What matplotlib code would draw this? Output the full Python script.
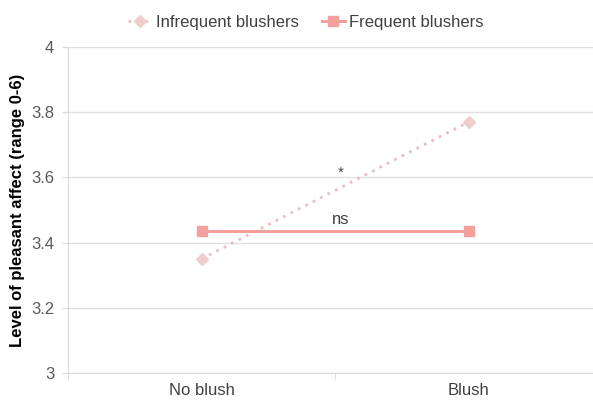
import matplotlib.pyplot as plt

categories = ['No blush', 'Blush']
infrequent = [3.35, 3.77]
frequent = [3.435, 3.435]
y_ticks = [3, 3.2, 3.4, 3.6, 3.8, 4]
y_tick_labels = ['3', '3.2', '3.4', '3.6', '3.8', '4']

plt.rcParams['font.family'] = ['Liberation Sans', 'DejaVu Sans']

fig = plt.figure(figsize=(5.93, 4.01), dpi=100)
ax = fig.add_axes([68 / 593, 1 - 373 / 401, (602 - 68) / 593, (373 - 47) / 401])

x = list(range(len(categories)))
ax.plot(x, infrequent, color='#e8c0c0', linestyle=(0, (1, 2)), linewidth=2,
        marker='D', markersize=6, markerfacecolor='#f0cccc', markeredgecolor='#f0cccc',
        label='Infrequent blushers')
ax.plot(x, frequent, color='#f2a09c', linewidth=2.2,
        marker='s', markersize=6.5, markerfacecolor='#f4a09c', markeredgecolor='#f4a09c',
        label='Frequent blushers')

# significance markers
ax.text(0.52, 3.615, '*', ha='center', va='center', fontsize=11, color='#404040')
ax.text(0.52, 3.47, 'ns', ha='center', va='center', fontsize=12, color='#404040')

ax.set_xlim(-0.5, 1.5)
ax.set_ylim(3, 4)
ax.set_yticks(y_ticks)
ax.set_yticklabels(y_tick_labels)
ax.set_xticks(x)
ax.set_xticklabels(categories)
ax.set_xticks([-0.5, 0.5, 1.5], minor=True)
ax.tick_params(axis='x', which='major', length=0, pad=7, labelsize=12, labelcolor='#404040')
ax.tick_params(axis='x', which='minor', length=4, color='#d9d9d9')
ax.tick_params(axis='y', length=4, color='#d9d9d9', labelsize=12, labelcolor='#595959', pad=6)
ax.yaxis.grid(True, color='#e0e0e0', linewidth=1)
ax.set_axisbelow(True)
for side in ['top', 'right']:
    ax.spines[side].set_visible(False)
ax.spines['left'].set_color('#d9d9d9')
ax.spines['bottom'].set_color('#d9d9d9')

ax.set_ylabel('Level of pleasant affect (range 0-6)', fontsize=12, fontweight='bold',
              color='#000000', labelpad=4)

fig.legend(loc='upper center', bbox_to_anchor=(517 / 593 * 0.5 + 0.08, 1.0), ncol=2,
           frameon=False, fontsize=12, handlelength=1.4, handletextpad=0.25,
           columnspacing=1.4, labelcolor='#404040')

fig.savefig('out.png', dpi=100)
